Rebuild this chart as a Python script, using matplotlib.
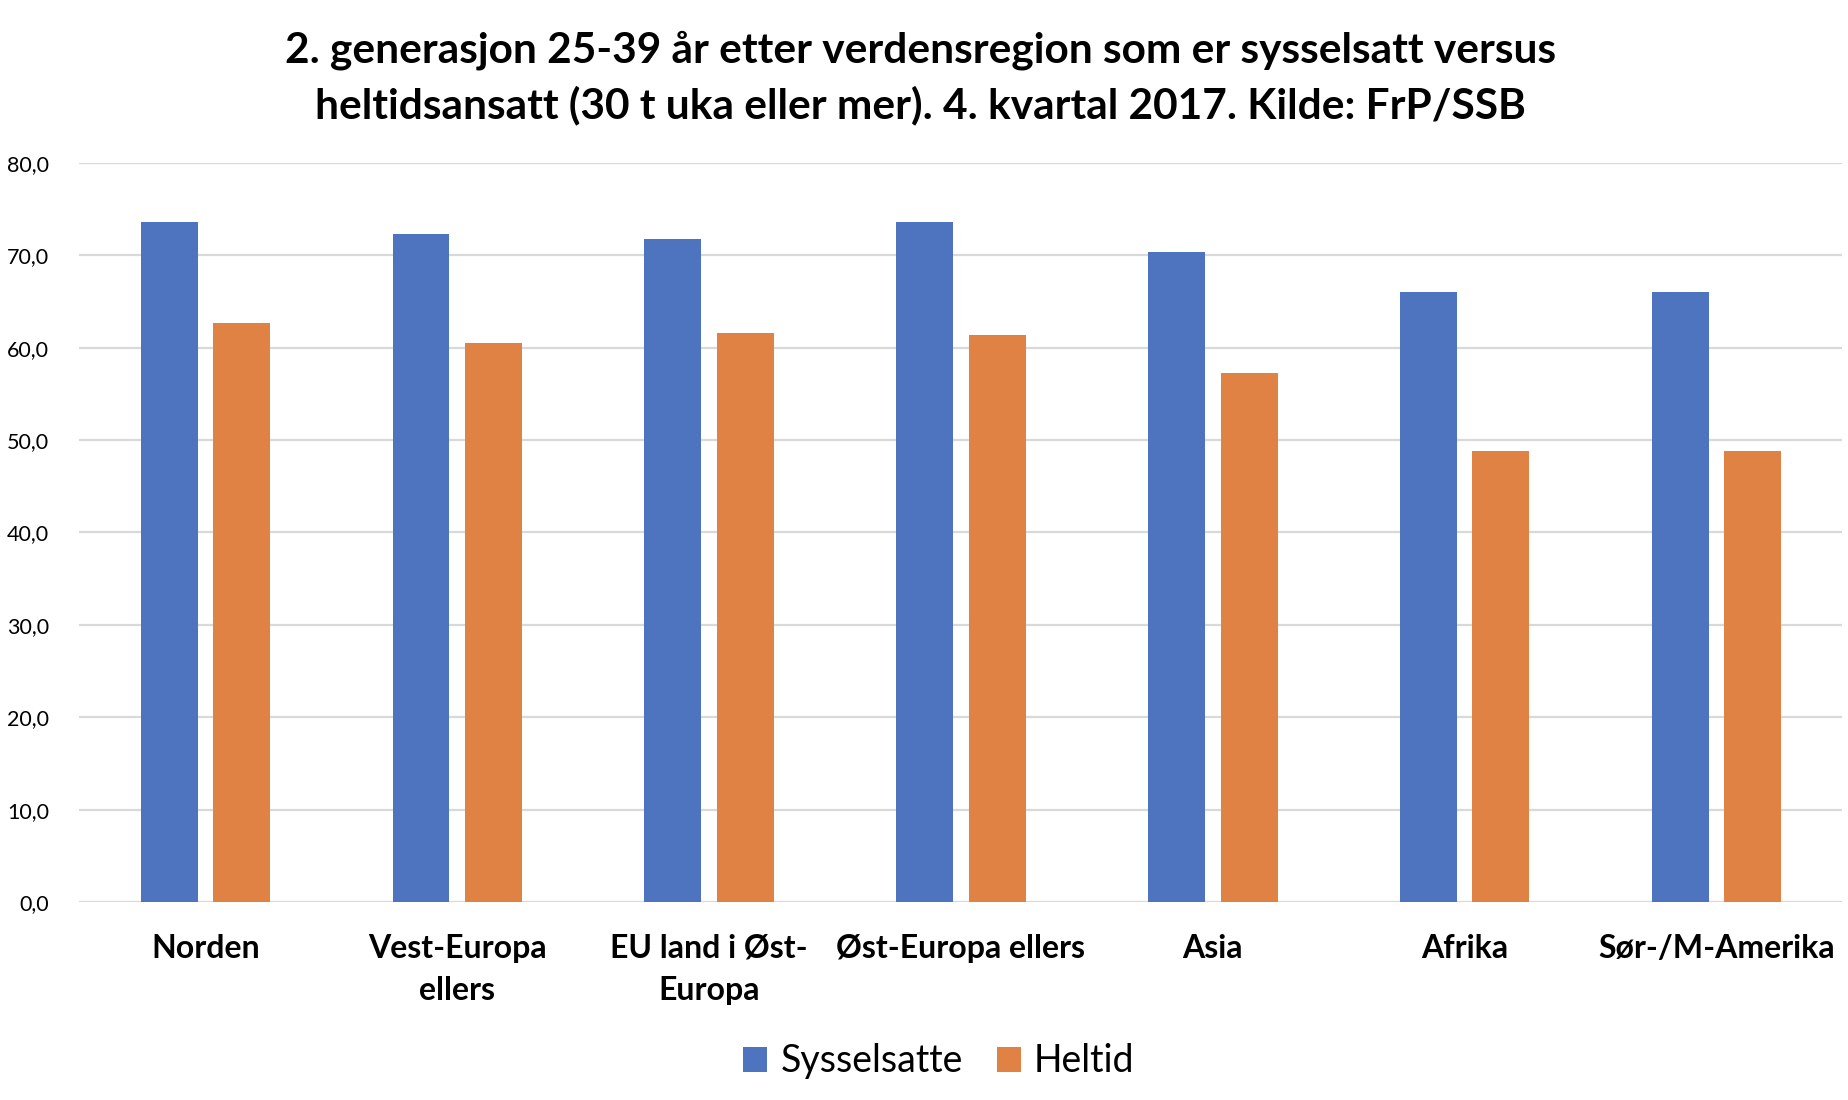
import numpy as np
import matplotlib.pyplot as plt

# data
regions = ['Norden', 'Vest-Europa\nellers', 'EU land i Øst-\nEuropa', 'Øst-Europa ellers',
           'Asia', 'Afrika', 'Sør-/M-Amerika']
sysselsatte = [73.6, 72.3, 71.8, 73.6, 70.3, 66.0, 66.0]
heltid = [62.7, 60.5, 61.6, 61.4, 57.3, 48.8, 48.8]
series_names = ['Sysselsatte', 'Heltid']
title = ('2. generasjon 25-39 år etter verdensregion som er sysselsatt versus\n'
         'heltidsansatt (30 t uka eller mer). 4. kvartal 2017. Kilde: FrP/SSB')

plt.rcParams['font.family'] = ['Lato', 'DejaVu Sans']

fig = plt.figure(figsize=(18.48, 11), dpi=100)
ax = fig.add_axes([0.043, 0.18, 0.954, 0.672])

x = np.arange(len(regions))
w = 0.226
off = 0.144
ax.bar(x - off, sysselsatte, w, color='#4E74BF', label=series_names[0], zorder=3)
ax.bar(x + off, heltid, w, color='#E08243', label=series_names[1], zorder=3)

ax.set_xlim(-0.5, len(regions) - 0.5)
ax.set_ylim(0, 80)
ax.set_yticks(np.arange(0, 81, 10))
ax.set_yticklabels([f'{v:.1f}'.replace('.', ',') for v in np.arange(0, 81, 10)], fontsize=15.5)
ax.set_xticks(x)
ax.set_xticklabels(regions, fontsize=23, fontweight='bold', linespacing=1.55)
ax.tick_params(axis='both', length=0)
ax.tick_params(axis='y', pad=22)
ax.tick_params(axis='x', pad=23)
ax.grid(axis='y', color='#D9D9D9', linewidth=1.6, zorder=0)
for s in ax.spines.values():
    s.set_visible(False)

fig.suptitle(title, fontsize=30.5, fontweight='bold', x=0.498, y=0.972, linespacing=1.45)

fig.legend(loc='lower center', bbox_to_anchor=(0.508, -0.012), ncol=2, frameon=False,
           fontsize=27, handlelength=0.65, handleheight=0.65, handletextpad=0.35, columnspacing=0.9)

plt.savefig('out.png', dpi=100)
